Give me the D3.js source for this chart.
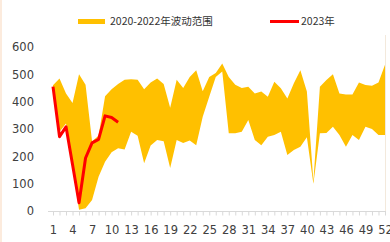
<!DOCTYPE html>
<html>
<head>
<meta charset="utf-8">
<script src="https://cdn.jsdelivr.net/npm/d3@7"></script>
<style>
  html, body { margin: 0; padding: 0; background: #fff; }
  svg { display: block; }
  text { font-family: "DejaVu Sans", Verdana, sans-serif; }
</style>
</head>
<body>
<div id="chart"></div>
<script>
// week numbers
const weeks = d3.range(1, 53);
// 2020-2022 range (upper / lower)
const upper = [460, 485, 430, 395, 500, 462, 255, 275, 420, 445,
               465, 480, 482, 480, 445, 470, 485, 465, 378, 480,
               450, 490, 515, 438, 490, 505, 540, 490, 462, 450,
               455, 430, 437, 418, 473, 449, 412, 467, 515, 437,
               110, 455, 479, 500, 430, 426, 426, 470, 461, 458,
               470, 535];
const lower = [445, 290, 320, 160, 5, 10, 40, 125, 180, 215,
               230, 225, 290, 275, 175, 240, 260, 255, 157, 260,
               249, 258, 241, 345, 418, 490, 510, 284, 284, 290,
               333, 260, 241, 272, 278, 290, 205, 223, 235, 270,
               100, 284, 285, 308, 278, 235, 278, 260, 308, 300,
               278, 278];
// 2023
const y2023 = [455, 272, 308, 170, 30, 194, 249, 262, 348, 342, 325];
const yTicks = [0, 100, 200, 300, 400, 500, 600];
const legendLabels = ["2020-2022年波动范围", "2023年"];

const colors = { band: "#FFC000", line: "#FF0000", text: "#404040", axis: "#D9D9D9" };
const width = 390, height = 242;

const svg = d3.select("#chart").append("svg")
    .attr("width", width)
    .attr("height", height);

// left edge tint
svg.append("rect").attr("x", 0).attr("y", 0).attr("width", 2).attr("height", height)
    .attr("fill", "#FCEBDD");

const x = d3.scaleLinear().domain([1, 52]).range([53, 385]);
const y = d3.scaleLinear().domain([0, 600]).range([211, 47]);

// right border of plot area
svg.append("line")
    .attr("x1", 385.5).attr("x2", 385.5)
    .attr("y1", 35).attr("y2", y(0))
    .attr("stroke", "#F3E9DC");

// band
const band = weeks.map((w, i) => ({ w, lo: lower[i], hi: upper[i] }));
const area = d3.area()
    .x(d => x(d.w))
    .y0(d => y(d.lo))
    .y1(d => y(d.hi));
svg.append("path")
    .datum(band)
    .attr("fill", colors.band)
    .attr("d", area);

// 2023 line
const line = d3.line()
    .x((d, i) => x(i + 1))
    .y(d => y(d));
svg.append("path")
    .datum(y2023)
    .attr("fill", "none")
    .attr("stroke", colors.line)
    .attr("stroke-width", 3)
    .attr("stroke-linejoin", "round")
    .attr("d", line);

// y axis (labels only)
const yAxis = svg.append("g")
    .attr("transform", "translate(34,0)")
    .call(d3.axisLeft(y).tickValues(yTicks).tickSize(0).tickPadding(0));
yAxis.select(".domain").remove();
yAxis.selectAll("text")
    .attr("fill", colors.text)
    .style("font-size", "11.5px");

// x axis
const xAxis = svg.append("g")
    .attr("transform", `translate(0,${y(0) + 0.5})`)
    .call(d3.axisBottom(x)
        .tickValues(weeks)
        .tickSize(4)
        .tickSizeOuter(0)
        .tickPadding(10)
        .tickFormat(d => (d - 1) % 3 === 0 ? d : ""));
xAxis.select(".domain")
    .attr("d", "M48,0H386")
    .attr("stroke", colors.axis);
xAxis.selectAll(".tick line").attr("stroke", colors.axis);
xAxis.selectAll("text")
    .attr("fill", colors.text)
    .style("font-size", "11.5px");

// legend
const legend = svg.append("g");
legend.append("rect")
    .attr("x", 78).attr("y", 19)
    .attr("width", 27).attr("height", 5)
    .attr("fill", colors.band);
legend.append("text")
    .attr("x", 110).attr("y", 25)
    .attr("fill", "#333")
    .style("font-size", "10.5px")
    .style("font-family", "\"Noto Sans CJK SC\", sans-serif")
    .text(legendLabels[0]);
legend.append("line")
    .attr("x1", 270).attr("x2", 299)
    .attr("y1", 21.5).attr("y2", 21.5)
    .attr("stroke", colors.line)
    .attr("stroke-width", 3);
legend.append("text")
    .attr("x", 301).attr("y", 25)
    .attr("fill", "#333")
    .style("font-size", "10.5px")
    .style("font-family", "\"Noto Sans CJK SC\", sans-serif")
    .text(legendLabels[1]);
</script>
</body>
</html>
